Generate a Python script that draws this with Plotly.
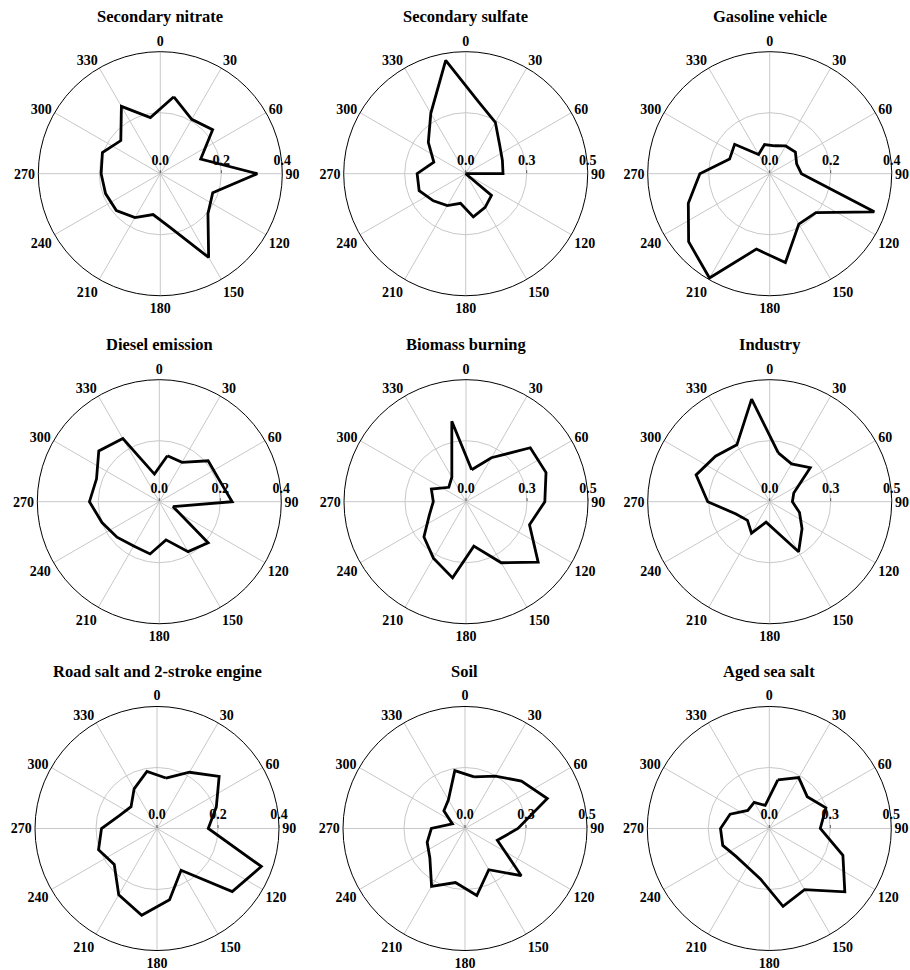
import plotly.graph_objects as go

# Wind-sector centres (degrees, clockwise from north)
directions = [10, 30, 50, 70, 90, 110, 130, 150, 170, 190,
              210, 230, 250, 270, 290, 310, 330, 350]

titles = ["Secondary nitrate", "Secondary sulfate", "Gasoline vehicle",
          "Diesel emission", "Biomass burning", "Industry",
          "Road salt and 2-stroke engine", "Soil", "Aged sea salt"]

secondary_nitrate = [0.256, 0.206, 0.224, 0.141, 0.318, 0.183, 0.204, 0.317, 0.178,
                     0.136, 0.166, 0.188, 0.191, 0.194, 0.202, 0.169, 0.255, 0.187]
secondary_sulfate = [0.300, 0.243, 0.182, 0.160, 0.153, 0.000, 0.138, 0.159, 0.180,
                     0.123, 0.151, 0.173, 0.203, 0.199, 0.139, 0.200, 0.286, 0.472]
gasoline_vehicle = [0.093, 0.105, 0.110, 0.094, 0.104, 0.365, 0.198, 0.191, 0.296,
                    0.251, 0.395, 0.347, 0.284, 0.229, 0.140, 0.150, 0.073, 0.097]
diesel_emission = [0.153, 0.149, 0.209, 0.209, 0.239, 0.048, 0.209, 0.189, 0.127,
                   0.174, 0.168, 0.181, 0.200, 0.229, 0.219, 0.259, 0.239, 0.092]
biomass_burning = [0.133, 0.208, 0.344, 0.349, 0.323, 0.277, 0.386, 0.289, 0.185,
                   0.317, 0.267, 0.225, 0.160, 0.134, 0.151, 0.092, 0.116, 0.335]
industry = [0.203, 0.179, 0.217, 0.105, 0.093, 0.130, 0.173, 0.237, 0.118,
            0.085, 0.149, 0.119, 0.147, 0.254, 0.321, 0.290, 0.269, 0.427]
road_salt_2stroke = [0.168, 0.213, 0.266, 0.207, 0.168, 0.364, 0.322, 0.158, 0.237,
                     0.289, 0.251, 0.183, 0.204, 0.182, 0.129, 0.111, 0.150, 0.190]
soil = [0.215, 0.248, 0.302, 0.359, 0.217, 0.141, 0.301, 0.195, 0.279,
        0.225, 0.274, 0.188, 0.165, 0.138, 0.055, 0.113, 0.136, 0.241]
aged_sea_salt = [0.202, 0.241, 0.203, 0.247, 0.209, 0.321, 0.404, 0.289, 0.324,
                 0.210, 0.181, 0.178, 0.203, 0.200, 0.171, 0.115, 0.124, 0.096]

series = [secondary_nitrate, secondary_sulfate, gasoline_vehicle,
          diesel_emission, biomass_burning, industry,
          road_salt_2stroke, soil, aged_sea_salt]

# Upper limit of the radial axis for each panel
radial_max = [0.4, 0.5, 0.4,
              0.4, 0.5, 0.5,
              0.4, 0.5, 0.5]

angle_ticks = list(range(0, 360, 30))
angle_labels = [str(a) for a in angle_ticks]

W, H = 910, 970
RADIUS = 122
centers = [(160.3, 173.7), (465.7, 173.7), (769.7, 173.7),
           (159.3, 501.7), (466.0, 501.7), (769.7, 501.7),
           (157.0, 828.5), (465.0, 828.5), (769.3, 828.5)]
TITLE_OFFSET = 157

SERIF = "Liberation Serif, Times New Roman, serif"
GRID = "#c8c8c8"

fig = go.Figure()
layout_polars = {}
annotations = []

for i, (name, vals, rmax, (cx, cy)) in enumerate(zip(titles, series, radial_max, centers)):
    key = "polar" if i == 0 else f"polar{i + 1}"
    fig.add_trace(go.Scatterpolar(
        r=vals + [vals[0]],
        theta=directions + [directions[0]],
        mode="lines",
        line=dict(color="black", width=2.8),
        subplot=key,
        showlegend=False,
        hoverinfo="skip",
    ))
    layout_polars[key] = dict(
        domain=dict(x=[(cx - RADIUS) / W, (cx + RADIUS) / W],
                    y=[1 - (cy + RADIUS) / H, 1 - (cy - RADIUS) / H]),
        bgcolor="white",
        angularaxis=dict(
            rotation=90, direction="clockwise",
            tickmode="array", tickvals=angle_ticks, ticktext=angle_labels,
            ticks="", showline=True, linecolor="black", linewidth=1,
            showgrid=True, gridcolor=GRID, gridwidth=1,
            tickfont=dict(family=SERIF, size=14, color="black", weight="bold"),
        ),
        radialaxis=dict(
            range=[0, rmax], tickmode="array",
            tickvals=[0, rmax / 2, rmax], tickformat=".1f",
            angle=0, side="counterclockwise",
            showline=False, showgrid=True, gridcolor=GRID, gridwidth=1,
            ticks="outside", ticklen=3, tickcolor="#555555",
            tickfont=dict(family=SERIF, size=14, color="black", weight="bold"),
        ),
    )
    annotations.append(dict(
        text=f"<b>{name}</b>", x=cx / W, y=1 - (cy - TITLE_OFFSET) / H,
        xref="paper", yref="paper", xanchor="center", yanchor="middle",
        showarrow=False, font=dict(family=SERIF, size=16.5, color="black"),
    ))

fig.update_layout(
    width=W, height=H,
    margin=dict(l=0, r=0, t=0, b=0),
    paper_bgcolor="white",
    annotations=annotations,
    **layout_polars,
)

fig.write_html("out.html")
